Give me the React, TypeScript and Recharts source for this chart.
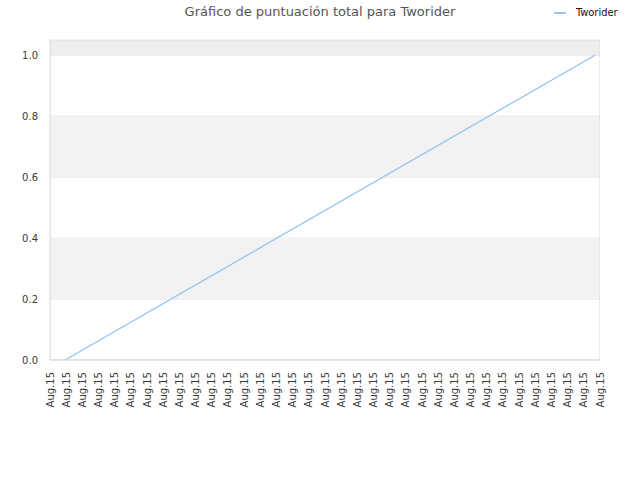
import React from "react";
import {
  LineChart,
  Line,
  XAxis,
  YAxis,
  CartesianGrid,
  ReferenceArea,
  Legend,
} from "recharts";

const tickLabels: string[] = [
  "Aug.15", "Aug.15", "Aug.15", "Aug.15", "Aug.15", "Aug.15", "Aug.15",
  "Aug.15", "Aug.15", "Aug.15", "Aug.15", "Aug.15", "Aug.15", "Aug.15",
  "Aug.15", "Aug.15", "Aug.15", "Aug.15", "Aug.15", "Aug.15", "Aug.15",
  "Aug.15", "Aug.15", "Aug.15", "Aug.15", "Aug.15", "Aug.15", "Aug.15",
  "Aug.15", "Aug.15", "Aug.15", "Aug.15", "Aug.15", "Aug.15", "Aug.15",
];
const tickPositions: number[] = [
  0, 1, 2, 3, 4, 5, 6, 7, 8, 9, 10, 11, 12, 13, 14, 15, 16, 17, 18, 19, 20,
  21, 22, 23, 24, 25, 26, 27, 28, 29, 30, 31, 32, 33, 34,
];
const pointTimes: number[] = [0.93, 33.69];
const scores: number[] = [0, 1];
const yTicks: number[] = [0, 0.2, 0.4, 0.6, 0.8, 1.0];
const seriesName = "Tworider";
const title = "Gráfico de puntuación total para Tworider";

const data = pointTimes.map((t, i) => ({ t, score: scores[i] }));

const FONT = "'DejaVu Sans', sans-serif";
const LINE_COLOR = "#94c4f4";

const XTick = (props: any) => {
  const { x, y, payload } = props;
  const yy = y + 12;
  const label = tickLabels[tickPositions.indexOf(payload.value)] ?? "";
  return (
    <text
      x={x}
      y={yy}
      transform={`rotate(-90, ${x}, ${yy})`}
      textAnchor="end"
      dy="0.35em"
      fontSize={10}
      fontFamily={FONT}
      fill="#3a3a3a"
    >
      {label}
    </text>
  );
};

const YTick = (props: any) => {
  const { x, y, payload } = props;
  return (
    <text
      x={x - 12}
      y={y}
      textAnchor="end"
      dy="0.35em"
      fontSize={10}
      fontFamily={FONT}
      fill="#3a3a3a"
    >
      {Number(payload.value).toFixed(1)}
    </text>
  );
};

const LegendContent = () => (
  <div
    style={{
      display: "flex",
      alignItems: "center",
      fontFamily: "'DejaVu Sans Condensed', 'DejaVu Sans', sans-serif",
      fontStretch: "condensed",
      fontSize: 11,
      color: "#111",
      whiteSpace: "nowrap",
    }}
  >
    <svg width={12} height={4} style={{ marginRight: 10 }}>
      <line x1={0} y1={2} x2={12} y2={2} stroke={LINE_COLOR} strokeWidth={2} />
    </svg>
    <span>{seriesName}</span>
  </div>
);

export default function App() {
  return (
    <div
      style={{
        position: "absolute",
        left: 0,
        top: 0,
        width: 640,
        height: 480,
        background: "#fff",
      }}
    >
      <div
        style={{
          position: "absolute",
          left: 0,
          top: 4,
          width: 640,
          textAlign: "center",
          fontFamily: FONT,
          fontSize: 13,
          color: "#555",
          zIndex: 2,
        }}
      >
        {title}
      </div>
      <LineChart
        width={640}
        height={480}
        data={data}
        margin={{ top: 40, right: 40, bottom: 0, left: 0 }}
      >
        <ReferenceArea y1={0.2} y2={0.4} fill="#f2f2f2" fillOpacity={1} stroke="none" ifOverflow="hidden" />
        <ReferenceArea y1={0.6} y2={0.8} fill="#f2f2f2" fillOpacity={1} stroke="none" ifOverflow="hidden" />
        <ReferenceArea y1={1.0} y2={1.05} fill="#eeeeee" fillOpacity={1} stroke="none" ifOverflow="hidden" />
        <CartesianGrid horizontal vertical={false} stroke="#e2e2e2" />
        <ReferenceArea
          x1={0}
          x2={34}
          y1={0}
          y2={1.05}
          fill="none"
          stroke="#dddddd"
          strokeWidth={1}
          ifOverflow="hidden"
        />
        <XAxis
          dataKey="t"
          type="number"
          domain={[0, 34]}
          ticks={tickPositions}
          interval={0}
          height={120}
          tickLine={false}
          tickSize={0}
          tickMargin={0}
          axisLine={{ stroke: "#dddddd" }}
          tick={<XTick />}
        />
        <YAxis
          type="number"
          domain={[0, 1.05]}
          ticks={yTicks}
          width={50}
          tickLine={false}
          tickSize={0}
          tickMargin={0}
          axisLine={{ stroke: "#dddddd" }}
          tick={<YTick />}
          allowDataOverflow
        />
        <Legend
          layout="vertical"
          align="center"
          verticalAlign="middle"
          wrapperStyle={{ top: 6, left: 554, right: "auto", bottom: "auto", width: 86 }}
          content={<LegendContent />}
        />
        <Line
          type="linear"
          dataKey="score"
          name={seriesName}
          stroke={LINE_COLOR}
          strokeWidth={1.3}
          dot={false}
          isAnimationActive={false}
        />
      </LineChart>
    </div>
  );
}
